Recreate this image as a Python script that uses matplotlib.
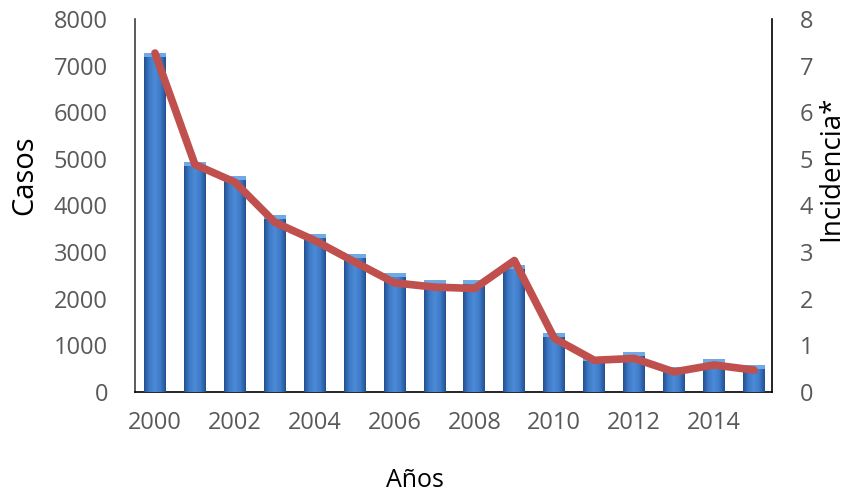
import numpy as np
import matplotlib
matplotlib.use("Agg")
import matplotlib.pyplot as plt
from matplotlib.colors import LinearSegmentedColormap

years = [2000, 2001, 2002, 2003, 2004, 2005, 2006, 2007, 2008, 2009, 2010, 2011, 2012, 2013, 2014, 2015]
casos = [7270, 4930, 4630, 3800, 3390, 2960, 2550, 2410, 2410, 2720, 1270, 760, 860, 540, 700, 580]
incidencia = [7.27, 4.88, 4.50, 3.64, 3.25, 2.79, 2.34, 2.25, 2.22, 2.82, 1.15, 0.68, 0.72, 0.43, 0.58, 0.47]
xticks = [2000, 2002, 2004, 2006, 2008, 2010, 2012, 2014]
left_ticks = [0, 1000, 2000, 3000, 4000, 5000, 6000, 7000, 8000]
right_ticks = [0, 1, 2, 3, 4, 5, 6, 7, 8]

plt.rcParams['font.family'] = ['Open Sans', 'DejaVu Sans']
tick_color = '#595959'

fig = plt.figure(figsize=(8.46, 4.92), dpi=100)
ax = fig.add_axes([135/846, 1-392/492, (772-135)/846, (392-19)/492])

bw = 0.55
bars = ax.bar(years, casos, width=bw, color='#3B73BE', edgecolor='none', zorder=2)
grad = LinearSegmentedColormap.from_list('g', ['#24508F', '#3E7BC9', '#4C8AD6', '#3E7BC9', '#24508F'])
gimg = np.linspace(0, 1, 64).reshape(1, -1)
for b in bars:
    x0, w, h = b.get_x(), b.get_width(), b.get_height()
    im = ax.imshow(gimg, cmap=grad, aspect='auto', extent=[x0, x0 + w, 0, h], zorder=3)
    im.set_clip_path(b)
    ax.bar(x0 + w/2, 90, width=w, bottom=h - 90, color='#6FA9E6', edgecolor='none', zorder=4)

ax.set_xlim(1999.5, 2015.45)
ax.set_ylim(0, 8000)
ax.set_xticks(xticks)
ax.set_xticklabels([str(t) for t in xticks])
ax.set_yticks(left_ticks)
ax.set_yticklabels([str(t) for t in left_ticks])
ax.tick_params(axis='y', length=0, pad=19.5, labelsize=17, labelcolor=tick_color)
ax.tick_params(axis='x', length=0, pad=14, labelsize=17, labelcolor=tick_color)
ax.spines['top'].set_visible(False)
ax.spines['right'].set_visible(False)
ax.spines['left'].set_color('#404040')
ax.spines['bottom'].set_color('#000000')
ax.spines['left'].set_linewidth(1.2)
ax.spines['bottom'].set_linewidth(1.2)

ax2 = ax.twinx()
ax2.plot(years, incidencia, color='#C0504D', linewidth=5.5, solid_capstyle='round', solid_joinstyle='round', zorder=5)
ax2.set_ylim(0, 8)
ax2.set_yticks(right_ticks)
ax2.set_yticklabels([str(t) for t in right_ticks])
ax2.tick_params(axis='y', length=0, pad=20, labelsize=17, labelcolor=tick_color)
for s in ['top', 'left', 'bottom']:
    ax2.spines[s].set_visible(False)
ax2.spines['right'].set_color('#000000')
ax2.spines['right'].set_linewidth(1.2)

fig.text(32/846, 1-175/492, 'Casos', rotation=90, rotation_mode='anchor',
         ha='center', va='baseline', fontsize=21, color='black')
fig.text(838/846, 1-168/492, 'Incidencia*', rotation=90, rotation_mode='anchor',
         ha='center', va='baseline', fontsize=20, color='black')
fig.text(415/846, 1-487/492, 'Años', ha='center', va='baseline', fontsize=18, color='black')

fig.savefig('out.png', dpi=100)
